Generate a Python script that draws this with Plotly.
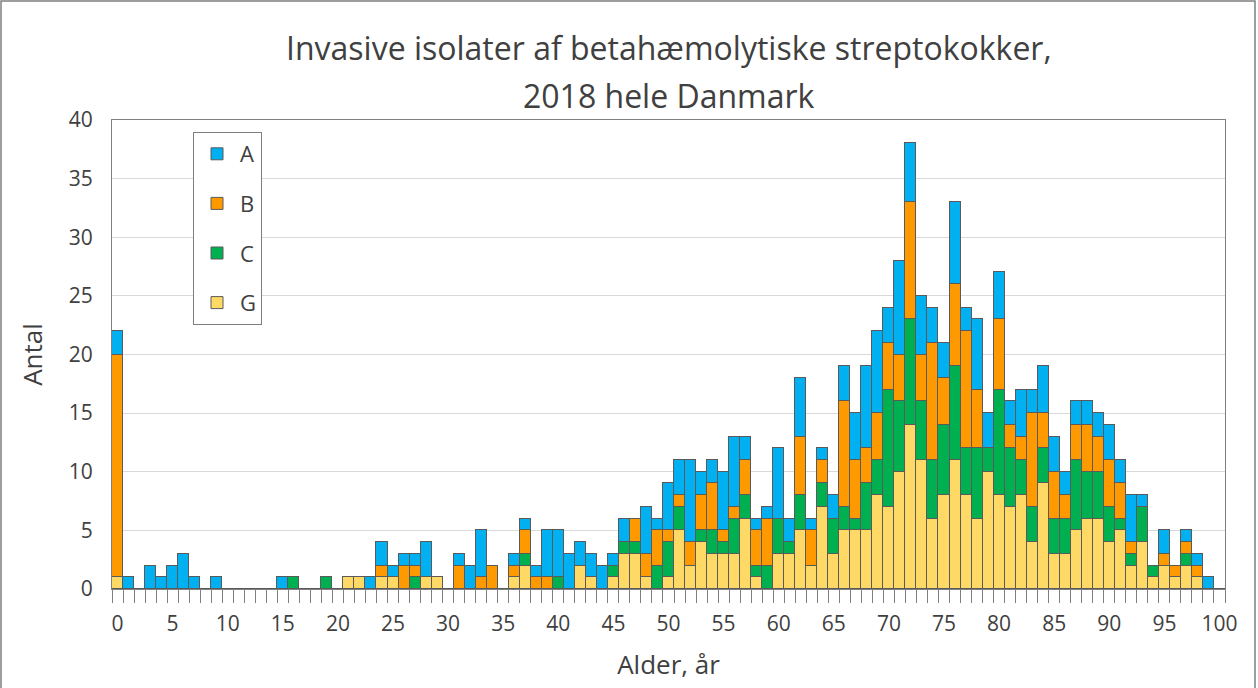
import plotly.graph_objects as go

ages = list(range(0, 101))

a_vals = [2, 1, 0, 2, 1, 2, 3, 1, 0, 1, 0, 0, 0, 0, 0, 1, 0, 0, 0, 0,
          0, 0, 0, 1, 2, 1, 1, 1, 3, 0, 0, 1, 2, 4, 0, 0, 1, 1, 1, 4,
          4, 3, 2, 2, 2, 1, 2, 0, 4, 1, 4, 3, 7, 2, 2, 5, 6, 2, 1, 1,
          6, 2, 5, 1, 1, 2, 3, 4, 7, 7, 3, 8, 5, 5, 3, 3, 7, 2, 6, 3,
          4, 2, 4, 2, 4, 3, 2, 2, 2, 2, 3, 2, 4, 1, 0, 2, 0, 1, 1, 1, 0]
b_vals = [19, 0, 0, 0, 0, 0, 0, 0, 0, 0, 0, 0, 0, 0, 0, 0, 0, 0, 0, 0,
          0, 0, 0, 0, 1, 0, 2, 1, 0, 0, 0, 2, 0, 1, 2, 0, 1, 2, 1, 1,
          0, 0, 0, 0, 0, 0, 0, 2, 2, 3, 1, 1, 2, 3, 4, 1, 1, 3, 3, 4,
          0, 0, 5, 3, 2, 0, 9, 5, 3, 4, 4, 4, 10, 4, 10, 4, 7, 10, 5, 0,
          6, 2, 2, 8, 3, 4, 2, 3, 4, 3, 4, 3, 1, 0, 0, 1, 1, 1, 1, 0, 0]
c_vals = [0, 0, 0, 0, 0, 0, 0, 0, 0, 0, 0, 0, 0, 0, 0, 0, 1, 0, 0, 1,
          0, 0, 0, 0, 0, 0, 0, 1, 0, 0, 0, 0, 0, 0, 0, 0, 0, 1, 0, 0,
          1, 0, 0, 0, 0, 1, 1, 1, 0, 2, 3, 2, 0, 1, 2, 1, 3, 2, 1, 2,
          3, 1, 3, 0, 2, 3, 2, 1, 4, 3, 10, 6, 9, 5, 5, 6, 8, 4, 6, 2,
          9, 5, 3, 3, 3, 3, 3, 6, 4, 4, 3, 1, 1, 3, 1, 0, 0, 1, 0, 0, 0]
g_vals = [1, 0, 0, 0, 0, 0, 0, 0, 0, 0, 0, 0, 0, 0, 0, 0, 0, 0, 0, 0,
          0, 1, 1, 0, 1, 1, 0, 0, 1, 1, 0, 0, 0, 0, 0, 0, 1, 2, 0, 0,
          0, 0, 2, 1, 0, 1, 3, 3, 1, 0, 1, 5, 2, 4, 3, 3, 3, 6, 1, 0,
          3, 3, 5, 2, 7, 3, 5, 5, 5, 8, 7, 10, 14, 11, 6, 8, 11, 8, 6, 10,
          8, 7, 8, 4, 9, 3, 3, 5, 6, 6, 4, 5, 2, 4, 1, 2, 1, 2, 1, 0, 0]

title_lines = ["Invasive isolater af betahæmolytiske streptokokker,", "2018 hele Danmark"]

# stacked bottom -> top, legend rank puts A first
series = [
    ("G", g_vals, "#FFD966", 4),
    ("C", c_vals, "#00B050", 3),
    ("B", b_vals, "#FF9900", 2),
    ("A", a_vals, "#00B0F0", 1),
]

fig = go.Figure()
for name, vals, col, rank in series:
    fig.add_trace(go.Bar(
        x=ages, y=vals, name=name, legendgroup=name, legendrank=rank,
        marker=dict(color=col, line=dict(color="#5a5a5a", width=1)),
    ))

W, H = 1258, 688
ml, mr, mt, mb = 112, 33, 120, 99
pw, ph = W - ml - mr, H - mt - mb
txt = "#404040"
clear = "rgba(0,0,0,0)"

fig.update_layout(
    width=W, height=H,
    margin=dict(l=ml, r=mr, t=mt, b=mb, autoexpand=False),
    barmode="stack", bargap=0,
    plot_bgcolor="white", paper_bgcolor="white",
    font=dict(family="Open Sans", size=21, color=txt),
    legend=dict(x=(193 - ml) / pw, y=(589 - 132) / ph, xanchor="left", yanchor="top",
                bordercolor="#7f7f7f", borderwidth=1, bgcolor="white",
                traceorder="grouped", tracegroupgap=18,
                font=dict(size=22), itemwidth=36),
    xaxis=dict(range=[-0.5, 100.5], tickmode="array", tickvals=list(range(0, 101, 5)),
               ticks="outside", ticklen=16, tickcolor=clear,
               showgrid=False, showline=True, linecolor="#808080", mirror=True,
               title=dict(text="Alder, år", font=dict(size=26), standoff=19),
               minor=dict(tick0=-0.5, dtick=1, ticks="outside", ticklen=13,
                          tickcolor="#808080", showgrid=False),
               tickfont=dict(size=21)),
    yaxis=dict(range=[0, 40], dtick=5, showgrid=True, gridcolor="#d9d9d9",
               showline=True, linecolor="#808080", mirror=True,
               ticks="outside", ticklen=14, tickcolor=clear,
               title=dict(text="Antal", font=dict(size=26), standoff=18),
               tickfont=dict(size=21)),
    showlegend=True,
)

# two title lines, placed like the original (centres at y=48 and y=95 px)
for line, py in zip(title_lines, [48, 95]):
    fig.add_annotation(text=line, xref="paper", yref="paper", x=0.5, y=(589 - py) / ph,
                       xanchor="center", yanchor="middle", showarrow=False,
                       font=dict(size=32, color=txt))

fig.add_shape(type="rect", xref="paper", yref="paper",
              x0=(1 - ml) / pw, x1=(W - ml - 3) / pw,
              y0=-(mb + 2) / ph, y1=(ph + mt - 1) / ph,
              line=dict(color="#7f7f7f", width=1.5), layer="below")

fig.write_html("out.html", config={"displayModeBar": False},
               post_script="document.body.style.margin='0';")
